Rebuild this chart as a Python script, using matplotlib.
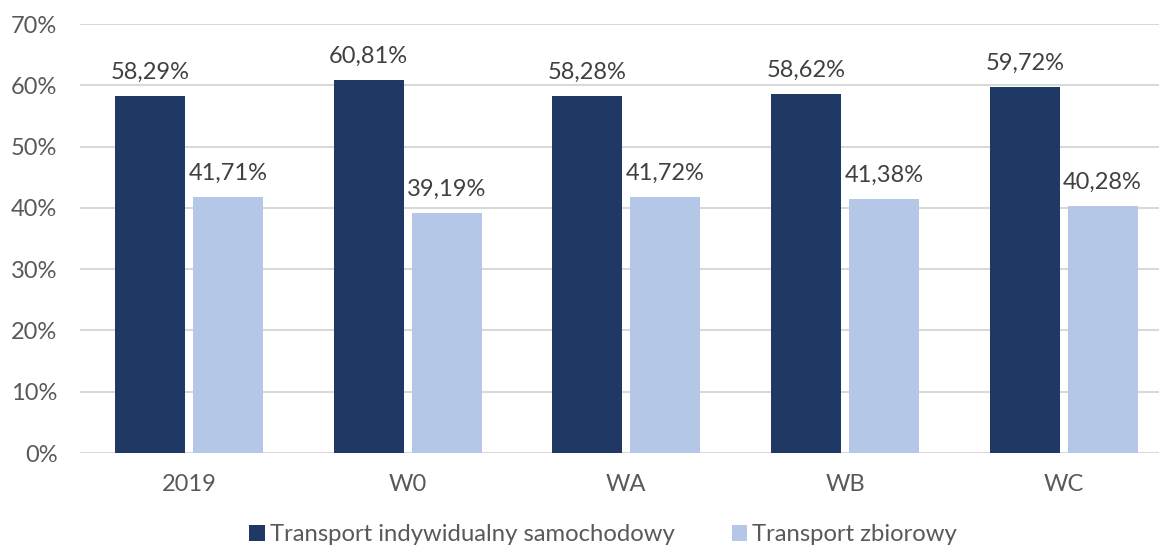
import numpy as np
import matplotlib.pyplot as plt
from matplotlib.ticker import FuncFormatter

# dane
categories = ['2019', 'W0', 'WA', 'WB', 'WC']
indywidualny = [58.29, 60.81, 58.28, 58.62, 59.72]
zbiorowy = [41.71, 39.19, 41.72, 41.38, 40.28]
series_names = ['Transport indywidualny samochodowy', 'Transport zbiorowy']

plt.rcParams['font.family'] = ['Lato', 'DejaVu Sans']

fig = plt.figure(figsize=(11.59, 5.47), dpi=100)
# obszar wykresu w pikselach: lewa 79.6, prawa ~1173, dół 453, góra 24
W, H = 1159, 547
ax = fig.add_axes([79.6 / W, 1 - 453 / H, (1173 - 79.6) / W, (453 - 24) / H])

x = np.arange(len(categories))
bw = 0.32
off = 0.178
dark = '#203864'
light = '#b4c7e7'

b1 = ax.bar(x - off, indywidualny, bw, color=dark, label=series_names[0], zorder=3)
b2 = ax.bar(x + off, zbiorowy, bw, color=light, label=series_names[1], zorder=3)

for bars, vals in ((b1, indywidualny), (b2, zbiorowy)):
    for r, v in zip(bars, vals):
        ax.annotate(f'{v:.2f}%'.replace('.', ','), (r.get_x() + r.get_width() / 2, v),
                    xytext=(0, 12.5), textcoords='offset points', ha='center', va='baseline',
                    fontsize=17, color='#404040')

ax.set_ylim(0, 70)
ax.set_xlim(-0.5, len(categories) - 0.5)
ax.set_yticks(np.arange(0, 71, 10))
ax.yaxis.set_major_formatter(FuncFormatter(lambda v, p: f'{v:.0f}%'))
ax.set_xticks(x)
ax.set_xticklabels(categories)
ax.tick_params(axis='both', length=0, labelsize=17, labelcolor='#595959')
ax.tick_params(axis='x', pad=15)
ax.tick_params(axis='y', pad=16)
ax.grid(axis='y', color='#d9d9d9', linewidth=1.5, zorder=0)
for s in ax.spines.values():
    s.set_visible(False)

fig.legend(handles=[b1, b2], loc='center', bbox_to_anchor=(603 / W, 1 - 534.5 / H), ncol=2,
           frameon=False, fontsize=17.2, labelcolor='#595959', handlelength=0.65,
           handleheight=0.65, handletextpad=0.2, columnspacing=2.4,
           borderpad=0, borderaxespad=0)

plt.savefig('out.png', dpi=100)
